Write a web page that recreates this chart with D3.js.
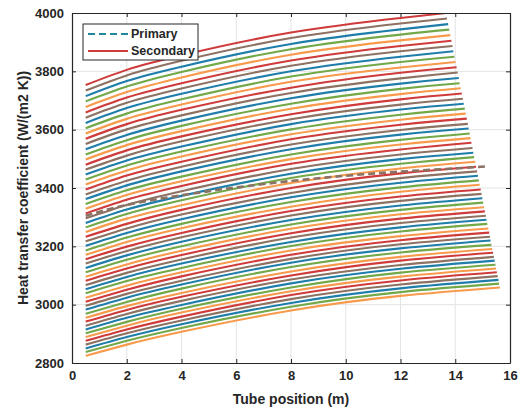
<!DOCTYPE html>
<html>
<head>
<meta charset="utf-8">
<script src="https://cdn.jsdelivr.net/npm/d3@7"></script>
<style>
    body { margin: 0; background: #fff; }
    text { font-family: Arial, "Liberation Sans", sans-serif; font-weight: bold; fill: #262626; }
</style>
</head>
<body>
<div id="chart"></div>
<script>
// secondary curves, top to bottom, values read at x = 0.5, 2, 4, 8, 12 and at the line end
const y05 = [3753,3734,3715,3697,3678,3659,3641,3623,3605,3587,3569,3551,3533,3515,3498,3480,3463,3446,3429,3412,
             3395,3378,3362,3345,3329,3313,3296,3280,3265,3249,3233,3217,3202,3186,3171,3156,3141,3126,3111,3096,
             3082,3067,3053,3039,3024,3010,2996,2983,2969,2955,2942,2928,2915,2902,2889,2876,2863,2850,2838,2825];
const y2  = [3805,3786,3767,3748,3729,3710,3692,3674,3655,3637,3619,3601,3582,3564,3547,3529,3511,3494,3477,3460,
             3443,3425,3409,3392,3376,3360,3342,3326,3311,3295,3277,3261,3246,3230,3215,3199,3184,3169,3154,3138,
             3124,3109,3095,3081,3065,3051,3037,3024,3009,2995,2982,2968,2955,2941,2928,2915,2902,2889,2876,2863];
const y4  = [3855,3836,3816,3798,3779,3759,3741,3723,3704,3686,3668,3649,3631,3613,3595,3577,3560,3542,3525,3508,
             3490,3473,3457,3439,3423,3407,3389,3373,3358,3341,3325,3309,3293,3277,3262,3246,3231,3216,3200,3185,
             3170,3155,3141,3126,3111,3097,3082,3069,3055,3040,3027,3013,2999,2986,2973,2959,2946,2933,2920,2907];
const y8  = [3933,3914,3894,3876,3857,3837,3819,3800,3782,3764,3744,3726,3708,3689,3672,3653,3636,3619,3601,3584,
             3567,3549,3533,3515,3499,3483,3465,3449,3434,3417,3400,3383,3368,3352,3336,3321,3306,3290,3275,3260,
             3245,3230,3215,3201,3186,3171,3157,3144,3129,3114,3100,3086,3073,3059,3046,3033,3019,3006,2993,2980];
const y12 = [3983,3964,3944,3926,3906,3887,3869,3850,3832,3813,3795,3776,3758,3740,3722,3704,3686,3669,3651,3634,
             3617,3599,3583,3565,3549,3532,3515,3499,3483,3467,3450,3434,3418,3402,3387,3371,3356,3340,3325,3310,
             3295,3280,3265,3251,3235,3221,3207,3193,3179,3164,3151,3136,3123,3110,3096,3083,3069,3056,3043,3030];
const xEnd = [13.66,13.70,13.74,13.78,13.82,13.86,13.90,13.93,13.97,14.01,14.05,14.09,14.13,14.16,14.20,14.24,14.28,14.31,14.35,14.38,
              14.42,14.46,14.49,14.53,14.56,14.59,14.63,14.66,14.69,14.73,14.76,14.80,14.83,14.86,14.89,14.93,14.96,14.99,15.02,15.05,
              15.08,15.12,15.14,15.17,15.21,15.24,15.27,15.29,15.32,15.35,15.38,15.41,15.44,15.47,15.49,15.52,15.55,15.58,15.60,15.63];
const yEnd = [4000,3981,3962,3943,3924,3905,3887,3869,3850,3832,3814,3796,3777,3759,3742,3724,3706,3689,3672,3655,
              3638,3620,3604,3587,3571,3555,3537,3521,3506,3490,3473,3457,3442,3426,3411,3395,3380,3365,3350,3334,
              3320,3305,3291,3277,3261,3247,3233,3220,3205,3191,3178,3164,3151,3137,3124,3111,3098,3085,3072,3059];
const secX = [0.5, 2, 4, 8, 12];

// primary curve
const primX = [0.5, 2, 4, 6, 8, 10, 12, 14, 15.1];
const primY = [3305, 3342, 3375, 3402, 3424, 3442, 3456, 3467, 3474];

const xTicks = [0, 2, 4, 6, 8, 10, 12, 14, 16];
const yTicks = [2800, 3000, 3200, 3400, 3600, 3800, 4000];
const legendNames = ['Primary', 'Secondary'];
const palette = ['#cf3b3b', '#8d7263', '#1f7daa', '#73a849', '#f89a4c'];

const width = 532, height = 410;
const margin = { top: 13, right: 22, bottom: 47, left: 72 };
const w = width - margin.left - margin.right;
const h = height - margin.top - margin.bottom;

const svg = d3.select('#chart').append('svg')
    .attr('width', width)
    .attr('height', height);

const chart = svg.append('g')
    .attr('transform', `translate(${margin.left},${margin.top})`);

const x = d3.scaleLinear().domain([0, 16]).range([0, w]);
const y = d3.scaleLinear().domain([2800, 4000]).range([h, 0]);

// grid
chart.selectAll('.vgrid').data(xTicks.slice(1, -1)).enter().append('line')
    .attr('x1', d => x(d)).attr('x2', d => x(d))
    .attr('y1', 0).attr('y2', h)
    .attr('stroke', '#e3e3e3').attr('stroke-width', 1);
chart.selectAll('.hgrid').data(yTicks.slice(1, -1)).enter().append('line')
    .attr('x1', 0).attr('x2', w)
    .attr('y1', d => y(d)).attr('y2', d => y(d))
    .attr('stroke', '#e3e3e3').attr('stroke-width', 1);

const line = d3.line()
    .x(d => x(d[0]))
    .y(d => y(d[1]))
    .curve(d3.curveNatural);

const secondary = y05.map((v, i) => {
    const ys = [v, y2[i], y4[i], y8[i], y12[i]];
    const pts = secX.map((xx, k) => [xx, ys[k]]);
    pts.push([xEnd[i], yEnd[i]]);
    return pts;
});

chart.selectAll('.sec')
    .data(secondary)
    .enter()
    .append('path')
    .attr('d', line)
    .attr('fill', 'none')
    .attr('stroke', (d, i) => palette[i % palette.length])
    .attr('stroke-width', 2.1);

chart.append('path')
    .datum(primX.map((v, i) => [v, primY[i]]))
    .attr('d', line)
    .attr('fill', 'none')
    .attr('stroke', '#8a7364')
    .attr('stroke-width', 2.6)
    .attr('stroke-dasharray', '7,4');

// axes (box with inward ticks)
const axisCol = '#262626';
const fmt = d3.format('d');
const xAxis = d3.axisBottom(x).tickValues(xTicks).tickFormat(fmt).tickSizeInner(-4).tickSizeOuter(0).tickPadding(8);
const yAxis = d3.axisLeft(y).tickValues(yTicks).tickFormat(fmt).tickSizeInner(-4).tickSizeOuter(0).tickPadding(8);

const gx = chart.append('g').attr('transform', `translate(0,${h})`).call(xAxis);
const gy = chart.append('g').call(yAxis);
chart.append('g').call(d3.axisTop(x).tickValues(xTicks).tickSizeInner(-4).tickSizeOuter(0).tickFormat(''));
chart.append('g').attr('transform', `translate(${w},0)`)
    .call(d3.axisRight(y).tickValues(yTicks).tickSizeInner(-4).tickSizeOuter(0).tickFormat(''));

chart.selectAll('.domain').attr('stroke', axisCol).attr('stroke-width', 1.2);
chart.selectAll('.tick line').attr('stroke', axisCol);
gx.selectAll('text').style('font-size', '13px').style('font-weight', 'bold').attr('fill', axisCol);
gy.selectAll('text').style('font-size', '13px').style('font-weight', 'bold').attr('fill', axisCol);

svg.append('text')
    .attr('x', margin.left + w / 2)
    .attr('y', 404)
    .style('text-anchor', 'middle')
    .style('font-size', '14px')
    .text('Tube position (m)');

svg.append('text')
    .attr('transform', `translate(28, ${margin.top + h / 2}) rotate(-90)`)
    .style('text-anchor', 'middle')
    .style('font-size', '14px')
    .text('Heat transfer coefficient (W/(m2 K))');

// legend
const lg = svg.append('g').attr('transform', 'translate(83,24)');
lg.append('rect')
    .attr('width', 115).attr('height', 36)
    .attr('fill', '#fff').attr('stroke', axisCol).attr('stroke-width', 1);
lg.selectAll('.lline').data(legendNames).enter().append('line')
    .attr('x1', 5).attr('x2', 45)
    .attr('y1', (d, i) => 10 + i * 17).attr('y2', (d, i) => 10 + i * 17)
    .attr('stroke', (d, i) => i === 0 ? '#1f8a99' : '#cf3b3b')
    .attr('stroke-width', 2)
    .attr('stroke-dasharray', (d, i) => i === 0 ? '7,4' : null);
lg.selectAll('.ltext').data(legendNames).enter().append('text')
    .attr('x', 48)
    .attr('y', (d, i) => 10 + i * 17)
    .attr('dy', '0.35em')
    .style('font-size', '12.5px')
    .text(d => d);
</script>
</body>
</html>
